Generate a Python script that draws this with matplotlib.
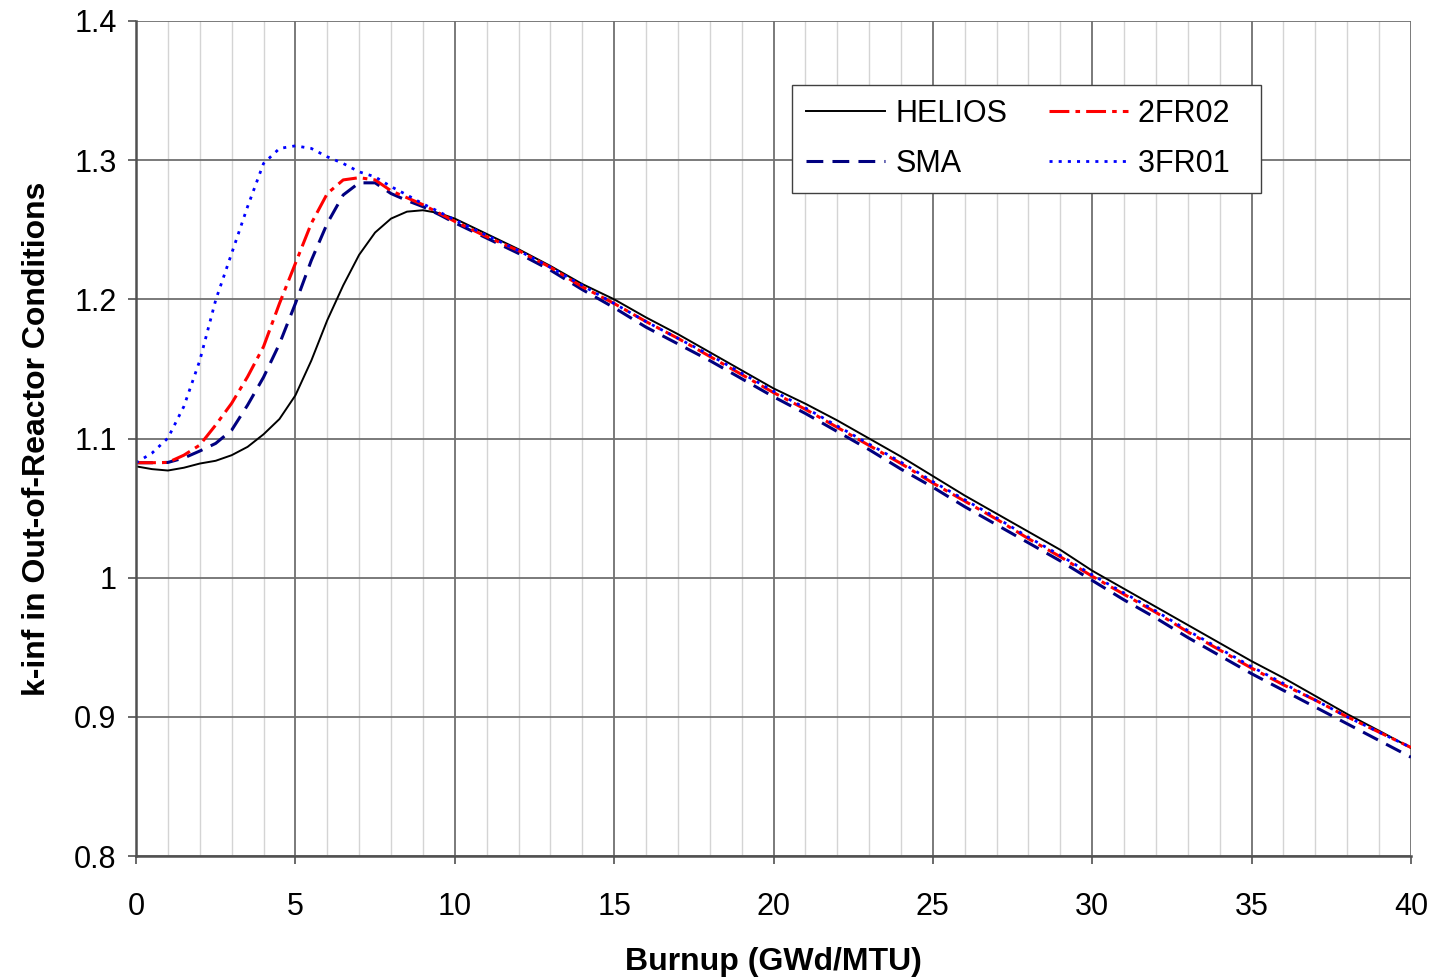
import matplotlib.pyplot as plt
import numpy as np
from matplotlib.ticker import MultipleLocator, FormatStrFormatter

plt.rcParams['font.family'] = ['Liberation Sans', 'DejaVu Sans']

# burnup points (GWd/MTU)
burnup = [0, 0.5, 1, 1.5, 2, 2.5, 3, 3.5, 4, 4.5, 5, 5.5, 6, 6.5, 7, 7.5, 8, 8.5, 9, 9.5,
          10, 11, 12, 13, 14, 15, 16, 17, 18, 19, 20, 21, 22, 23, 24, 25, 26, 27, 28, 29,
          30, 31, 32, 33, 34, 35, 36, 37, 38, 39, 40]

helios = [1.080, 1.078, 1.077, 1.079, 1.082, 1.084, 1.088, 1.094, 1.103, 1.114, 1.131, 1.156,
          1.185, 1.210, 1.232, 1.248, 1.258, 1.263, 1.264, 1.262,
          1.258, 1.247, 1.236, 1.224, 1.211, 1.200, 1.187, 1.175, 1.162, 1.149,
          1.136, 1.125, 1.113, 1.100, 1.087, 1.073, 1.059, 1.046, 1.033, 1.020,
          1.005, 0.992, 0.979, 0.966, 0.953, 0.940, 0.928, 0.915, 0.902, 0.890, 0.8777]

sma = [1.0826, 1.0826, 1.0828, 1.086, 1.091, 1.0965, 1.106, 1.124, 1.144, 1.168, 1.197, 1.228,
       1.2546, 1.275, 1.2837, 1.2837, 1.276, 1.271, 1.2666, 1.261,
       1.255, 1.244, 1.233, 1.221, 1.207, 1.194, 1.180, 1.168, 1.156, 1.143,
       1.130, 1.118, 1.105, 1.092, 1.078, 1.065, 1.051, 1.038, 1.025, 1.012,
       0.998, 0.984, 0.971, 0.957, 0.944, 0.931, 0.919, 0.907, 0.895, 0.883, 0.871]

fr2_02 = [1.0826, 1.0826, 1.0828, 1.088, 1.0953, 1.1097, 1.1253, 1.1444, 1.166, 1.197, 1.2258,
          1.2546, 1.276, 1.2858, 1.2874, 1.2858, 1.278, 1.273, 1.268, 1.262,
          1.256, 1.245, 1.235, 1.223, 1.209, 1.197, 1.184, 1.172, 1.159, 1.146,
          1.133, 1.121, 1.108, 1.095, 1.082, 1.068, 1.055, 1.042, 1.028, 1.015,
          1.001, 0.988, 0.975, 0.961, 0.948, 0.935, 0.923, 0.912, 0.900, 0.889, 0.878]

fr3_01 = [1.0826, 1.0895, 1.1003, 1.123, 1.156, 1.1995, 1.233, 1.2666, 1.2976, 1.3084, 1.3103,
          1.3084, 1.3024, 1.2976, 1.2916, 1.288, 1.281, 1.275, 1.2686, 1.263,
          1.257, 1.246, 1.235, 1.223, 1.210, 1.197, 1.184, 1.172, 1.160, 1.147,
          1.134, 1.122, 1.109, 1.096, 1.083, 1.069, 1.056, 1.043, 1.029, 1.016,
          1.002, 0.989, 0.976, 0.962, 0.949, 0.936, 0.924, 0.912, 0.900, 0.889, 0.878]

fig = plt.figure(figsize=(14.38, 9.8), dpi=100)
ax = fig.add_axes([0.0946, 0.1265, 0.8866, 0.8521])

ax.plot(burnup, helios, color='black', lw=1.4, label='HELIOS')
ax.plot(burnup, sma, color='#000080', lw=2.2, dashes=(5.5, 3), label='SMA')
ax.plot(burnup, fr2_02, color='red', lw=2.2, dashes=(6.5, 2, 1.5, 2), label='2FR02  ')
ax.plot(burnup, fr3_01, color='blue', lw=2.0, dashes=(1.1, 2.2), label='3FR01  ')

ax.set_xlim(0, 40)
ax.set_ylim(0.8, 1.4)
ax.xaxis.set_major_locator(MultipleLocator(5))
ax.xaxis.set_minor_locator(MultipleLocator(1))
ax.yaxis.set_major_locator(MultipleLocator(0.1))
ax.yaxis.set_major_formatter(FormatStrFormatter('%g'))

ax.grid(True, which='minor', axis='x', color='#d4d4d4', lw=1.0)
ax.grid(True, which='major', color='#707070', lw=1.3)
ax.set_axisbelow(True)
ax.tick_params(which='minor', length=0)
ax.tick_params(which='major', direction='out', length=6, width=1.2, color='#505050',
               labelsize=22)
ax.tick_params(axis='y', pad=8)
ax.tick_params(axis='x', pad=20)

for side in ['left', 'bottom']:
    ax.spines[side].set_color('#505050')
    ax.spines[side].set_linewidth(1.8)
for side in ['right', 'top']:
    ax.spines[side].set_visible(False)

ax.set_xlabel('Burnup (GWd/MTU)', fontsize=23, fontweight='bold', labelpad=18)
ax.set_ylabel('k-inf in Out-of-Reactor Conditions', fontsize=23, fontweight='bold', labelpad=16)

leg = ax.legend(loc='upper left', bbox_to_anchor=(0.5145, 0.923), ncol=2, fontsize=22,
                frameon=True, fancybox=False, edgecolor='#404040', framealpha=1,
                handlelength=2.6, handletextpad=0.33, columnspacing=1.35,
                borderpad=0.45, labelspacing=0.66, borderaxespad=0)
leg.get_frame().set_linewidth(1.0)

fig.savefig('out.png', dpi=100)
